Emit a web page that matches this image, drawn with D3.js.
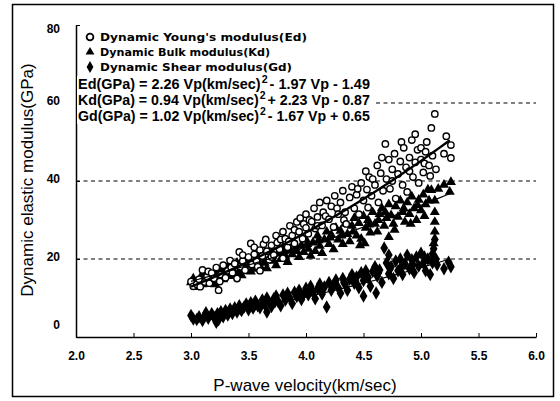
<!DOCTYPE html>
<html><head><meta charset="utf-8">
<script src="https://cdn.jsdelivr.net/npm/d3@7"></script>
<style>body{margin:0;background:#fff}svg{display:block}</style>
</head><body><svg id="c" width="560" height="401"></svg>
<script>
const xTicks = [2.0,2.5,3.0,3.5,4.0,4.5,5.0,5.5,6.0];
const yTicks = [0,20,40,60,80];
const gridValues = [20,40,60];
const legendLabels = ["Dynamic Young's modulus(Ed)","Dynamic Bulk modulus(Kd)","Dynamic Shear modulus(Gd)"];
const equations = [
  ["Ed(GPa) = 2.26 Vp(km/sec)","2","- 1.97 Vp - 1.49"],
  ["Kd(GPa) = 0.94 Vp(km/sec)","2","+ 2.23 Vp - 0.87"],
  ["Gd(GPa) = 1.02 Vp(km/sec)","2","- 1.67 Vp + 0.65"]
];
const coefE = [2.26,-1.97,-1.49];
const coefK = [0.94,2.23,-0.87];
const coefG = [1.02,-1.67,0.65];
const fitRange = [3.0,5.27];

const edData = [[3.0,14.2],[3.02,13.0],[3.05,13.5],[3.07,14.8],[3.08,12.9],[3.1,17.2],[3.12,14.1],[3.14,15.5],[3.15,16.8],[3.16,13.8],[3.18,16.4],[3.2,15.0],[3.22,17.8],[3.24,12.0],[3.25,14.2],[3.26,16.0],[3.28,18.4],[3.3,15.2],[3.32,17.0],[3.34,19.6],[3.35,17.8],[3.36,16.5],[3.38,18.8],[3.4,15.0],[3.42,21.8],[3.43,18.0],[3.45,19.5],[3.45,21.0],[3.47,17.1],[3.5,20.5],[3.52,24.0],[3.53,18.6],[3.55,21.2],[3.55,23.0],[3.57,19.4],[3.58,18.0],[3.6,22.3],[3.6,17.0],[3.62,20.8],[3.63,23.8],[3.65,25.0],[3.66,22.0],[3.68,19.8],[3.7,23.5],[3.7,20.5],[3.72,21.0],[3.74,26.0],[3.75,24.2],[3.77,22.5],[3.78,25.0],[3.8,27.0],[3.8,20.2],[3.82,25.2],[3.84,23.0],[3.85,24.5],[3.86,28.5],[3.88,26.0],[3.9,24.0],[3.9,27.5],[3.92,29.5],[3.94,27.0],[3.95,30.5],[3.97,25.2],[3.98,29.0],[4.0,28.0],[4.0,31.5],[4.02,26.5],[4.03,30.0],[4.05,29.6],[4.07,33.0],[4.08,27.8],[4.1,30.8],[4.1,28.5],[4.12,34.5],[4.14,28.6],[4.15,32.0],[4.17,31.0],[4.18,35.0],[4.2,30.2],[4.22,33.5],[4.24,28.2],[4.25,36.2],[4.27,33.0],[4.28,31.5],[4.3,34.5],[4.32,37.5],[4.33,30.0],[4.34,32.0],[4.35,29.0],[4.38,35.8],[4.4,38.5],[4.42,33.0],[4.44,36.5],[4.45,38.0],[4.46,31.5],[4.48,39.5],[4.5,35.0],[4.52,42.5],[4.53,37.8],[4.54,33.2],[4.55,41.0],[4.57,36.2],[4.58,40.5],[4.6,39.0],[4.62,44.0],[4.63,34.5],[4.65,42.0],[4.66,46.0],[4.67,37.5],[4.69,49.5],[4.7,40.5],[4.72,45.5],[4.73,38.0],[4.75,43.0],[4.75,40.0],[4.77,47.0],[4.78,35.5],[4.8,41.8],[4.82,45.0],[4.83,50.0],[4.84,39.0],[4.85,48.5],[4.87,43.5],[4.88,37.2],[4.9,46.0],[4.9,42.5],[4.92,50.5],[4.93,41.0],[4.95,44.8],[4.95,52.0],[4.97,48.0],[4.98,39.5],[5.0,45.5],[5.0,48.5],[5.02,42.2],[5.03,44.5],[5.04,47.5],[5.05,50.0],[5.07,44.0],[5.08,41.3],[5.09,53.6],[5.1,46.5],[5.12,57.2],[5.13,43.0],[5.2,47.0],[5.22,51.5],[5.26,49.2],[5.26,45.9]];

const kdData = [[3.0,14.0],[3.02,15.0],[3.05,13.6],[3.06,12.8],[3.08,15.2],[3.1,13.5],[3.11,16.0],[3.12,14.6],[3.14,16.0],[3.16,13.9],[3.18,15.4],[3.2,14.2],[3.21,13.5],[3.22,16.5],[3.24,15.0],[3.26,17.2],[3.28,14.8],[3.3,16.3],[3.31,17.5],[3.32,18.0],[3.34,15.6],[3.36,17.4],[3.38,16.0],[3.4,19.0],[3.41,16.2],[3.42,17.0],[3.44,15.8],[3.46,18.5],[3.48,17.2],[3.5,20.0],[3.51,18.5],[3.52,16.8],[3.54,18.8],[3.56,17.5],[3.58,20.5],[3.6,18.2],[3.61,19.8],[3.62,21.0],[3.64,19.0],[3.66,17.6],[3.68,20.2],[3.7,22.0],[3.71,20.8],[3.72,19.5],[3.74,18.4],[3.76,21.5],[3.78,20.0],[3.8,23.0],[3.81,22.0],[3.82,20.8],[3.84,19.2],[3.86,22.5],[3.88,21.2],[3.9,24.0],[3.91,23.0],[3.92,22.0],[3.94,20.5],[3.96,23.5],[3.98,21.8],[4.0,25.0],[4.01,23.8],[4.02,22.6],[4.04,20.8],[4.06,24.2],[4.08,22.0],[4.1,26.0],[4.11,24.8],[4.12,23.4],[4.14,21.5],[4.16,25.0],[4.18,27.0],[4.2,23.8],[4.21,25.5],[4.22,26.2],[4.24,22.5],[4.26,28.0],[4.28,25.0],[4.3,27.2],[4.31,26.0],[4.32,23.8],[4.34,29.0],[4.36,26.4],[4.38,24.5],[4.4,28.5],[4.41,27.0],[4.42,30.5],[4.44,26.0],[4.46,29.2],[4.47,23.5],[4.48,25.2],[4.5,31.0],[4.51,24.0],[4.52,28.0],[4.54,30.0],[4.55,28.8],[4.56,26.8],[4.58,32.0],[4.6,29.0],[4.62,27.0],[4.63,30.0],[4.64,31.5],[4.66,33.0],[4.68,28.5],[4.69,32.0],[4.7,30.5],[4.72,25.6],[4.72,34.0],[4.74,31.2],[4.76,29.0],[4.77,27.5],[4.78,33.5],[4.8,30.8],[4.82,35.0],[4.84,32.0],[4.85,33.0],[4.86,29.5],[4.88,34.5],[4.9,31.5],[4.91,29.0],[4.92,36.0],[4.94,33.0],[4.96,30.0],[4.97,33.8],[4.98,35.2],[5.0,32.5],[5.02,36.5],[5.03,31.0],[5.04,34.0],[5.06,37.8],[5.07,35.0],[5.09,37.7],[5.12,35.0],[5.12,32.0],[5.12,29.5],[5.12,27.0],[5.11,24.0],[5.15,38.0],[5.2,39.0],[5.25,37.2],[5.26,39.7]];

const gdData = [[3.0,5.5],[3.02,4.6],[3.05,4.5],[3.07,5.2],[3.1,4.2],[3.12,5.5],[3.13,6.2],[3.15,4.8],[3.18,6.0],[3.2,5.0],[3.22,3.8],[3.23,6.0],[3.24,4.4],[3.26,6.5],[3.28,5.2],[3.3,6.8],[3.32,5.6],[3.33,6.4],[3.34,7.2],[3.36,6.0],[3.38,7.5],[3.4,6.4],[3.42,8.0],[3.43,7.2],[3.44,6.8],[3.46,7.6],[3.48,8.5],[3.5,7.0],[3.52,8.8],[3.53,8.2],[3.54,7.4],[3.56,9.2],[3.58,8.0],[3.6,7.5],[3.62,9.5],[3.63,8.9],[3.64,8.4],[3.66,6.4],[3.66,10.0],[3.68,8.8],[3.7,7.8],[3.72,9.8],[3.73,9.0],[3.74,10.5],[3.76,9.0],[3.78,8.0],[3.8,10.8],[3.82,9.5],[3.83,10.0],[3.84,11.2],[3.86,10.0],[3.88,8.6],[3.9,11.5],[3.92,10.4],[3.93,11.0],[3.94,12.0],[3.96,9.6],[3.98,11.0],[4.0,12.5],[4.02,10.8],[4.03,11.8],[4.04,13.0],[4.06,11.5],[4.08,9.8],[4.1,12.4],[4.12,13.6],[4.13,12.2],[4.14,11.0],[4.16,12.8],[4.18,7.7],[4.2,14.0],[4.22,12.0],[4.23,13.0],[4.24,13.2],[4.26,14.6],[4.28,12.6],[4.3,11.2],[4.32,15.0],[4.33,14.0],[4.34,13.5],[4.36,12.0],[4.38,14.8],[4.4,16.0],[4.42,13.8],[4.43,14.2],[4.44,15.4],[4.46,12.6],[4.48,16.5],[4.5,10.5],[4.5,14.5],[4.52,17.0],[4.53,15.8],[4.54,15.2],[4.56,13.0],[4.58,16.8],[4.6,18.0],[4.61,11.3],[4.62,15.6],[4.63,16.5],[4.64,17.2],[4.66,14.0],[4.68,22.8],[4.7,19.0],[4.72,21.0],[4.72,16.2],[4.73,17.5],[4.74,18.0],[4.76,15.0],[4.78,19.5],[4.8,17.0],[4.82,20.0],[4.83,18.0],[4.84,16.0],[4.86,18.8],[4.88,21.0],[4.9,17.5],[4.92,19.8],[4.93,18.5],[4.94,16.5],[4.96,20.5],[4.98,18.2],[5.0,21.5],[5.02,19.0],[5.03,20.5],[5.04,17.0],[5.06,20.0],[5.08,16.0],[5.1,21.3],[5.11,22.6],[5.12,25.0],[5.1,19.0],[5.13,20.0],[5.14,18.5],[5.2,17.5],[5.24,19.2],[5.26,18.0]];

const svg = d3.select("#c");
const x = d3.scaleLinear().domain([2,6]).range([76,536]);
const y = d3.scaleLinear().domain([0,80]).range([337,25]);
const FONT = "Liberation Sans, Arial, sans-serif";

// outer frame
svg.append("rect").attr("x",12.5).attr("y",4.5).attr("width",541).attr("height",392)
  .attr("fill","none").attr("stroke","#000").attr("stroke-width",1.5);

// dashed grid
svg.append("g").selectAll("line").data(gridValues).join("line")
  .attr("x1",x(2)).attr("x2",x(6)).attr("y1",d=>y(d)).attr("y2",d=>y(d))
  .attr("stroke","#000").attr("stroke-width",1.2).attr("stroke-dasharray","4,3.5");

// axes
const xAxis = d3.axisBottom(x).tickValues(xTicks).tickSizeInner(-4).tickSizeOuter(0).tickPadding(14).tickFormat(d3.format(".1f"));
const gx = svg.append("g").attr("transform",`translate(0,${y(0)})`).call(xAxis);
gx.select(".domain").attr("stroke-width",1.5);
gx.selectAll("text").attr("font-family",FONT).attr("font-weight","bold").attr("font-size",12).attr("fill","#000");

const yAxis = d3.axisLeft(y).tickValues(yTicks).tickSizeInner(-4).tickSizeOuter(0).tickPadding(16).tickFormat(d3.format("d"));
const gy = svg.append("g").attr("transform",`translate(${x(2)},0)`).call(yAxis);
gy.select(".domain").attr("stroke-width",1.5);
gy.selectAll("text").attr("font-family",FONT).attr("font-weight","bold").attr("font-size",12).attr("fill","#000")
  .attr("dy",d=> d===0 ? "-0.75em" : (d===80 ? "0.6em" : "0.1em"));

// axis titles
svg.append("text").attr("x",305).attr("y",391).attr("text-anchor","middle")
  .attr("font-family",FONT).attr("font-size",17).text("P-wave velocity(km/sec)");
svg.append("text").attr("transform","translate(33,180) rotate(-90)").attr("text-anchor","middle")
  .attr("font-family",FONT).attr("font-size",17).text("Dynamic elastic modulus(GPa)");

// markers
const tri = d3.symbol().type(d3.symbolTriangle).size(44);
const dia = d3.symbol().type(d3.symbolDiamond).size(52);
const pts = svg.append("g");
pts.append("g").selectAll("path").data(gdData).join("path")
  .attr("d",dia).attr("transform",d=>`translate(${x(d[0])},${y(d[1])})`).attr("fill","#000");
pts.append("g").selectAll("path").data(kdData).join("path")
  .attr("d",tri).attr("transform",d=>`translate(${x(d[0])},${y(d[1])})`).attr("fill","#000");
pts.append("g").selectAll("circle").data(edData).join("circle")
  .attr("cx",d=>x(d[0])).attr("cy",d=>y(d[1])).attr("r",3.2)
  .attr("fill","#fff").attr("stroke","#000").attr("stroke-width",1.4);

// fitted curves
function poly(c){return v=>c[0]*v*v+c[1]*v+c[2];}
const vs = d3.range(fitRange[0], fitRange[1]+0.001, 0.05);
const line = f=>d3.line().x(v=>x(v)).y(v=>y(f(v)))(vs);
svg.append("path").attr("d",line(poly(coefG))).attr("fill","none").attr("stroke","#000").attr("stroke-width",1.2);
svg.append("path").attr("d",line(poly(coefK))).attr("fill","none").attr("stroke","#000").attr("stroke-width",1.2);
svg.append("path").attr("d",line(poly(coefE))).attr("fill","none").attr("stroke","#000").attr("stroke-width",2.4);

// legend
const legY = [37,52,67];
const legW = [207,170,192];
const lg = svg.append("g");
lg.append("circle").attr("cx",90).attr("cy",legY[0]).attr("r",3.4).attr("fill","#fff").attr("stroke","#000").attr("stroke-width",1.8);
lg.append("path").attr("d",d3.symbol().type(d3.symbolTriangle).size(34)).attr("transform",`translate(90,${legY[1]})`);
lg.append("path").attr("d",d3.symbol().type(d3.symbolDiamond).size(40)).attr("transform",`translate(90,${legY[2]})`);
legendLabels.forEach((t,i)=>{
  lg.append("text").attr("x",100).attr("y",legY[i]+4).attr("font-family","DejaVu Sans, sans-serif")
    .attr("font-weight","bold").attr("font-size",10.5).attr("textLength",legW[i]).attr("lengthAdjust","spacingAndGlyphs").text(t);
});

// equations: three pieces per line, horizontally condensed to fit
const eqY = [84,100,116];
const eqTarget = 292;
equations.forEach((e,i)=>{
  const g = svg.append("g");
  const bg = g.append("rect").attr("fill","#fff");
  const inner = g.append("g");
  const p1 = inner.append("text").attr("x",0).attr("y",0).attr("font-family",FONT).attr("font-weight","bold").attr("font-size",15).text(e[0]);
  const w1 = p1.node().getComputedTextLength();
  const p2 = inner.append("text").attr("x",w1+1).attr("y",-6).attr("font-family",FONT).attr("font-weight","bold").attr("font-size",11).text(e[1]);
  const w2 = p2.node().getComputedTextLength();
  const p3 = inner.append("text").attr("x",w1+w2+3).attr("y",0).attr("font-family",FONT).attr("font-weight","bold").attr("font-size",15).text(e[2]);
  const total = w1+w2+3+p3.node().getComputedTextLength();
  const sx = eqTarget/total;
  inner.attr("transform",`translate(78,${eqY[i]+5}) scale(${sx},1)`);
  bg.attr("x",77).attr("y",eqY[i]-8).attr("width",eqTarget+5).attr("height",16);
});
</script></body></html>
